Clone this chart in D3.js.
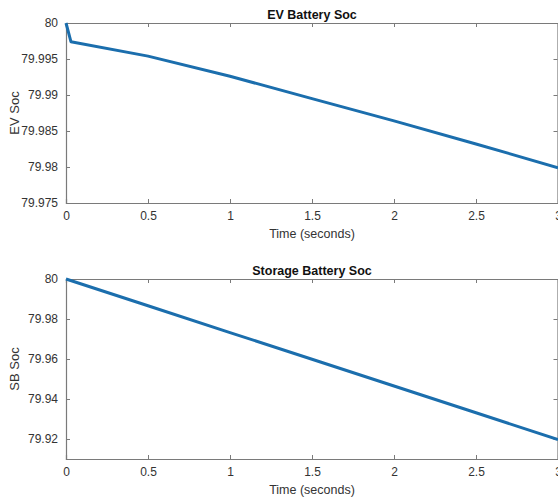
<!DOCTYPE html>
<html>
<head>
<meta charset="utf-8">
<script src="https://cdn.jsdelivr.net/npm/d3@7"></script>
<style>
  body { margin: 0; background: #fff; }
  svg { display: block; font-family: "Liberation Sans", Arial, Helvetica, sans-serif; }
  .tick text { fill: #333; font-size: 12px; }
</style>
</head>
<body>
<script>
// EV battery state of charge
var evTime = [0, 0.03, 0.5, 1, 1.5, 2, 2.5, 3]
var evSoc = [80, 79.9974, 79.9954, 79.9926, 79.9895, 79.9864, 79.9832, 79.9799]

// storage battery state of charge
var sbTime = [0, 0.5, 1, 1.5, 2, 2.5, 3]
var sbSoc = [80, 79.9866, 79.9732, 79.9599, 79.9465, 79.9331, 79.9197]

var xTicks = [0, 0.5, 1, 1.5, 2, 2.5, 3]
var evTicks = [79.975, 79.98, 79.985, 79.99, 79.995, 80]
var sbTicks = [79.92, 79.94, 79.96, 79.98, 80]

var width = 558
var height = 497
var axisColor = '#7a7a7a'
var lineColor = '#1b6ead'

var svg = d3.select('body')
  .append('svg')
  .attr('width', width)
  .attr('height', height)

var fmt = function(d) { return String(+d.toFixed(3)) }

function panel(opts) {
  var left = 66, right = 558
  var x = d3.scaleLinear().domain([0, 3]).range([left, right])
  var y = d3.scaleLinear().domain(opts.yDomain).range([opts.bottom, opts.top])
  var g = svg.append('g')

  // box ticks inward, MATLAB style
  var xb = d3.axisBottom(x).tickValues(xTicks).tickFormat(fmt).tickSize(-4).tickPadding(8)
  var xt = d3.axisTop(x).tickValues(xTicks).tickFormat('').tickSize(-4)
  var yl = d3.axisLeft(y).tickValues(opts.yTicks).tickFormat(fmt).tickSize(-4).tickPadding(8)
  var yr = d3.axisRight(y).tickValues(opts.yTicks).tickFormat('').tickSize(-4)

  g.append('g').attr('transform', 'translate(0,' + opts.bottom + ')').call(xb)
  g.append('g').attr('transform', 'translate(0,' + opts.top + ')').call(xt)
  g.append('g').attr('transform', 'translate(' + left + ',0)').call(yl)
  g.append('g').attr('transform', 'translate(' + (right - 0.5) + ',0)').call(yr)

  g.selectAll('.domain').attr('stroke', axisColor).attr('stroke-width', 1.2)
  g.selectAll('.tick line').attr('stroke', axisColor)

  var line = d3.line()
    .x(function(d, i) { return x(opts.t[i]) })
    .y(function(d) { return y(d) })

  g.append('path')
    .datum(opts.v)
    .attr('d', line)
    .attr('fill', 'none')
    .attr('stroke', lineColor)
    .attr('stroke-width', 3)
    .attr('stroke-linejoin', 'round')

  g.append('text')
    .attr('x', (left + right) / 2)
    .attr('y', opts.top - 4)
    .attr('text-anchor', 'middle')
    .style('font-size', '12.5px')
    .style('font-weight', 'bold')
    .attr('fill', '#111')
    .text(opts.title)

  g.append('text')
    .attr('x', (left + right) / 2)
    .attr('y', opts.bottom + 35)
    .attr('text-anchor', 'middle')
    .style('font-size', '12.5px')
    .attr('fill', '#333')
    .text('Time (seconds)')

  g.append('text')
    .attr('transform', 'translate(19,' + (opts.top + opts.bottom) / 2 + ') rotate(-90)')
    .attr('text-anchor', 'middle')
    .style('font-size', '13px')
    .attr('fill', '#333')
    .text(opts.ylabel)
}

panel({
  top: 23, bottom: 203,
  yDomain: [79.975, 80], yTicks: evTicks,
  t: evTime, v: evSoc,
  title: 'EV Battery Soc', ylabel: 'EV Soc'
})

panel({
  top: 279, bottom: 459,
  yDomain: [79.91, 80], yTicks: sbTicks,
  t: sbTime, v: sbSoc,
  title: 'Storage Battery Soc', ylabel: 'SB Soc'
})
</script>
</body>
</html>
